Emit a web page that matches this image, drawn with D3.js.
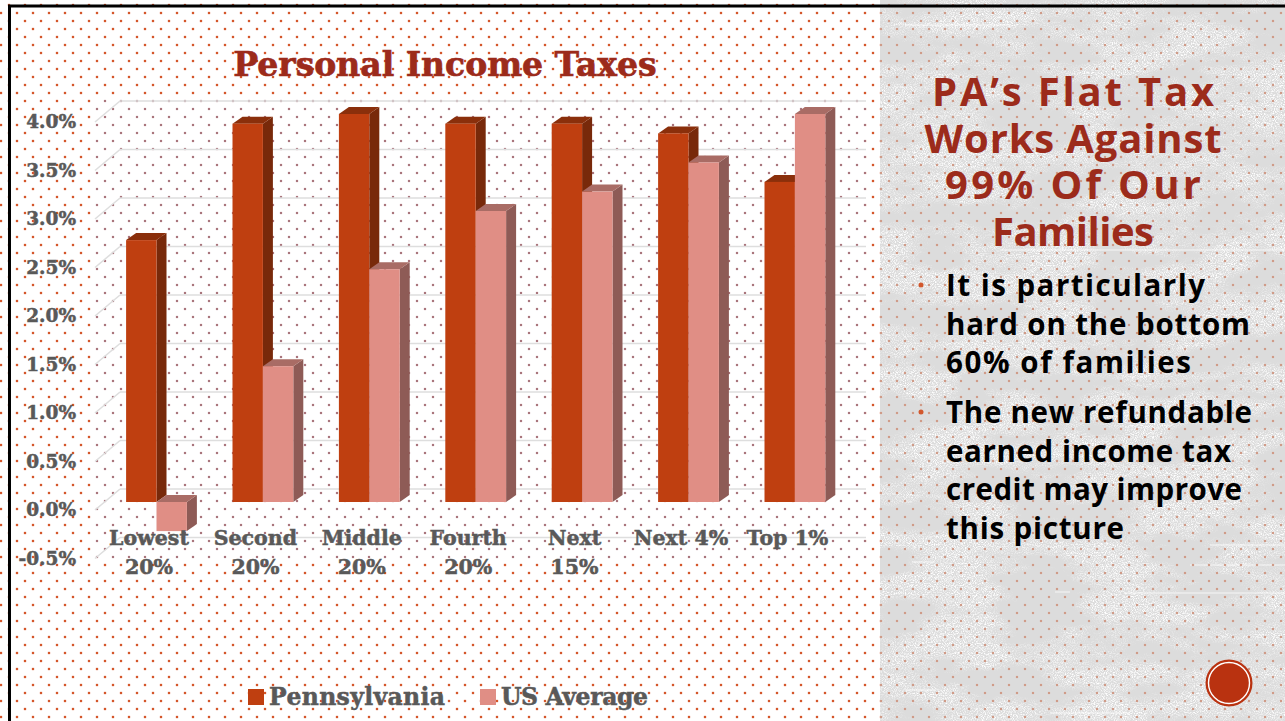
<!DOCTYPE html>
<html>
<head>
<meta charset="utf-8">
<script src="https://cdn.jsdelivr.net/npm/d3@7/dist/d3.min.js"></script>
<style>
  html, body { margin: 0; padding: 0; background: #fff; overflow: hidden; }
  svg { display: block; }
</style>
</head>
<body>
<svg id="slide" width="1285" height="721"></svg>
<script>
// Effective personal income tax rate by income group
const categories = [["Lowest", "20%"], ["Second", "20%"], ["Middle", "20%"], ["Fourth", "20%"], ["Next", "15%"], ["Next 4%"], ["Top 1%"]];
const pennsylvania = [2.7, 3.9, 4.0, 3.9, 3.9, 3.8, 3.3];
const usAverage = [-0.3, 1.4, 2.4, 3.0, 3.2, 3.5, 4.0];
const yTicks = [-0.5, 0, 0.5, 1, 1.5, 2, 2.5, 3, 3.5, 4];
const headingLines = ["PA’s Flat Tax", "Works Against", "99% Of Our", "Families"];
const bulletGroups = [
  ["It is particularly", "hard on the bottom", "60% of families"],
  ["The new refundable", "earned income tax", "credit may improve", "this picture"]
];

// Set widths keep the panel copy on its intended line lengths
const headingWidths = [282, 297, 256, 162];
const bulletWidths = [[259, 304, 245], [306, 285, 296, 178]];

const SLAB = "'DejaVu Serif', serif";
const HAND = "'Open Sans', 'Noto Sans', sans-serif";
const RED = "#9c2b1b";
const GREY = "#595959";

const svg = d3.select("#slide");
const defs = svg.append("defs");

// Staggered dot wallpaper, in one strength per surface
function dotPattern(id, colour, size) {
  const p = defs.append("pattern").attr("id", id).attr("patternUnits", "userSpaceOnUse")
    .attr("x", 1).attr("y", -3).attr("width", 16).attr("height", 16);
  [[8, 8], [0, 0], [16, 0], [0, 16], [16, 16]].forEach(([cx, cy]) => {
    p.append("rect").attr("x", cx - size / 2).attr("y", cy - size / 2).attr("width", size).attr("height", size).attr("fill", colour);
  });
}
dotPattern("dots", "#d4562a", 2.3);
dotPattern("dotsWall", "#a9757c", 2.2);
dotPattern("dotsPanel", "#cf9b88", 2.2);

// Mottled paper texture for the side panel
const paper = defs.append("filter").attr("id", "paper").attr("x", 0).attr("y", 0).attr("width", 1).attr("height", 1);
paper.append("feTurbulence").attr("type", "fractalNoise").attr("baseFrequency", "0.9").attr("numOctaves", 2).attr("seed", 7).attr("result", "fine");
paper.append("feColorMatrix").attr("in", "fine").attr("type", "matrix")
  .attr("values", "0 0 0 0 1  0 0 0 0 1  0 0 0 0 1  3.2 0 0 0 -1.35").attr("result", "speck");
paper.append("feTurbulence").attr("type", "fractalNoise").attr("baseFrequency", "0.012 0.03").attr("numOctaves", 4).attr("seed", 11).attr("result", "broad");
paper.append("feColorMatrix").attr("in", "broad").attr("type", "matrix")
  .attr("values", "0 0 0 0 1  0 0 0 0 1  0 0 0 0 1  4 0 0 0 -1.5").attr("result", "clouds");
paper.append("feComposite").attr("in", "speck").attr("in2", "clouds").attr("operator", "in").attr("result", "mottle");
paper.append("feMerge").selectAll("feMergeNode").data(["SourceGraphic", "mottle"]).join("feMergeNode").attr("in", d => d);

// Slide backdrop
const PANEL_X = 880;
svg.append("rect").attr("width", 1285).attr("height", 721).attr("fill", "#fff");
svg.append("rect").attr("width", PANEL_X).attr("height", 721).attr("fill", "url(#dots)");
svg.append("rect").attr("x", PANEL_X).attr("width", 405).attr("height", 721).attr("fill", "#dcdcdc").attr("filter", "url(#paper)");

// Fine scratches across the paper
const scratches = svg.append("g").attr("stroke", "#fff").attr("stroke-width", 1).attr("opacity", 0.75);
[[1210, 545, 1285], [912, 562, 935], [905, 690, 935], [1055, 592, 1070], [1125, 593, 1285], [1050, 713, 1130], [1190, 565, 1285], [905, 25, 1010], [1000, 250, 1285]].forEach(([x1, y, x2]) => {
  scratches.append("line").attr("x1", x1).attr("x2", x2).attr("y1", y).attr("y2", y);
});
svg.append("rect").attr("x", PANEL_X).attr("width", 405).attr("height", 721).attr("fill", "url(#dotsPanel)");
svg.append("path").attr("d", "M9.5 721V6H1285").attr("fill", "none").attr("stroke", "#000").attr("stroke-width", 3);

// Scales: front plane of the columns and the back wall sit on shifted copies of the value axis
const yFront = d3.scaleLinear().domain([-0.5, 4]).range([550.5, 114]);
const wallShift = { dy: -13 };
const depth = { dx: 10, dy: -7 };
const xGroup = d3.scaleBand().domain(d3.range(categories.length)).range([103.3, 848.1]);
const barWidth = 30.4;
const groupCentre = i => xGroup(i) + xGroup.bandwidth() / 2;

// Wall behind the plot mutes the wallpaper
const wallY = v => yFront(v) + wallShift.dy;
svg.append("rect").attr("x", 94).attr("y", wallY(4) - 4).attr("width", 772).attr("height", wallY(-0.5) - wallY(4) + 26).attr("fill", "#fff");
svg.append("rect").attr("x", 94).attr("y", wallY(4) - 4).attr("width", 772).attr("height", wallY(-0.5) - wallY(4) + 26).attr("fill", "url(#dotsWall)");

// Gridlines along the wall with their diagonal returns
const grid = svg.append("g").attr("fill", "none").attr("stroke", "#dedede").attr("stroke-width", 1.6);
grid.selectAll("line.wall").data(yTicks).join("line").attr("class", "wall")
  .attr("x1", 120).attr("x2", 866).attr("y1", wallY).attr("y2", wallY);
grid.selectAll("line.side").data(yTicks).join("line").attr("class", "side")
  .attr("x1", 95).attr("x2", 120).attr("y1", d => wallY(d) + 21).attr("y2", wallY);

// Value axis
const labelAxis = svg.append("g").attr("transform", "translate(76,8)")
  .call(d3.axisLeft(yFront).tickValues(yTicks).tickSize(0).tickPadding(0).tickFormat(d => d.toFixed(1) + "%"));
labelAxis.select(".domain").remove();
labelAxis.selectAll("text").attr("font-family", SLAB).attr("font-weight", 700).attr("font-size", 18.5)
  .attr("fill", GREY).attr("stroke", GREY).attr("stroke-width", 0.5);

// One extruded column: front face, top face, right side
function column(g, x, value, colours) {
  const y0 = yFront(0), yv = yFront(value);
  const top = Math.min(y0, yv), bottom = Math.max(y0, yv);
  const w = barWidth, dx = depth.dx, dy = depth.dy;
  const side = d3.path(); side.moveTo(x + w, top); side.lineTo(x + w + dx, top + dy); side.lineTo(x + w + dx, bottom + dy); side.lineTo(x + w, bottom); side.closePath();
  const lid = d3.path(); lid.moveTo(x, top); lid.lineTo(x + dx, top + dy); lid.lineTo(x + w + dx, top + dy); lid.lineTo(x + w, top); lid.closePath();
  g.append("path").attr("d", side.toString()).attr("fill", colours.side);
  g.append("path").attr("d", lid.toString()).attr("fill", colours.top);
  g.append("rect").attr("x", x).attr("y", top).attr("width", w).attr("height", bottom - top).attr("fill", colours.front);
}
const paColours = { front: "#bf3f10", top: "#8a2f0b", side: "#78290a" };
const usColours = { front: "#e08e85", top: "#a96c65", side: "#8e5b56" };
const bars = svg.append("g");
categories.forEach((_, i) => {
  column(bars, groupCentre(i) - barWidth, pennsylvania[i], paColours);
  column(bars, groupCentre(i), usAverage[i], usColours);
});

// Category labels
const catLabels = svg.append("g").attr("font-family", SLAB).attr("font-weight", 700).attr("font-size", 20.5)
  .attr("fill", GREY).attr("stroke", GREY).attr("stroke-width", 0.5).attr("text-anchor", "middle");
categories.forEach((lines, i) => {
  lines.forEach((t, k) => {
    catLabels.append("text").attr("x", groupCentre(i) - 7.5).attr("y", 545 + k * 29).text(t);
  });
});

// Chart title
svg.append("text").attr("x", 445).attr("y", 76).attr("text-anchor", "middle").attr("font-family", SLAB)
  .attr("font-weight", 700).attr("font-size", 33).attr("fill", RED).attr("stroke", RED).attr("stroke-width", 0.7).text("Personal Income Taxes");

// Legend
const legend = svg.append("g").attr("font-family", SLAB).attr("font-weight", 700).attr("font-size", 23.5)
  .attr("fill", GREY).attr("stroke", GREY).attr("stroke-width", 0.5);
[["Pennsylvania", paColours.front, 248, 176], ["US Average", usColours.front, 480, 147]].forEach(([name, colour, x, len]) => {
  legend.append("rect").attr("x", x).attr("y", 689).attr("width", 16).attr("height", 16).attr("fill", colour).attr("stroke", "none");
  legend.append("text").attr("x", x + 21).attr("y", 705).attr("textLength", len).attr("lengthAdjust", "spacing").text(name);
});

// Side panel heading
const heading = svg.append("g").attr("font-family", HAND).attr("font-weight", 700).attr("font-size", 40).attr("fill", RED);
headingLines.forEach((t, i) => {
  heading.append("text").attr("x", 1073 - headingWidths[i] / 2).attr("y", 106 + i * 46.6)
    .attr("textLength", headingWidths[i]).attr("lengthAdjust", "spacing").text(t);
});

// Side panel bullets
const bulletText = svg.append("g").attr("font-family", HAND).attr("font-weight", 700).attr("font-size", 29.5).attr("fill", "#000");
[296, 423].forEach((y0, g) => {
  svg.append("circle").attr("cx", 921).attr("cy", y0 - 11).attr("r", 2.5).attr("fill", "#d2572c");
  bulletGroups[g].forEach((t, i) => {
    bulletText.append("text").attr("x", 946).attr("y", y0 + i * 38.5)
      .attr("textLength", bulletWidths[g][i]).attr("lengthAdjust", "spacing").text(t);
  });
});

// Corner badge
svg.append("circle").attr("cx", 1229).attr("cy", 683).attr("r", 23.5).attr("fill", "#b93210");
svg.append("circle").attr("cx", 1229).attr("cy", 683).attr("r", 20.5).attr("fill", "none").attr("stroke", "#fff").attr("stroke-width", 1.4);
</script>
</body>
</html>
